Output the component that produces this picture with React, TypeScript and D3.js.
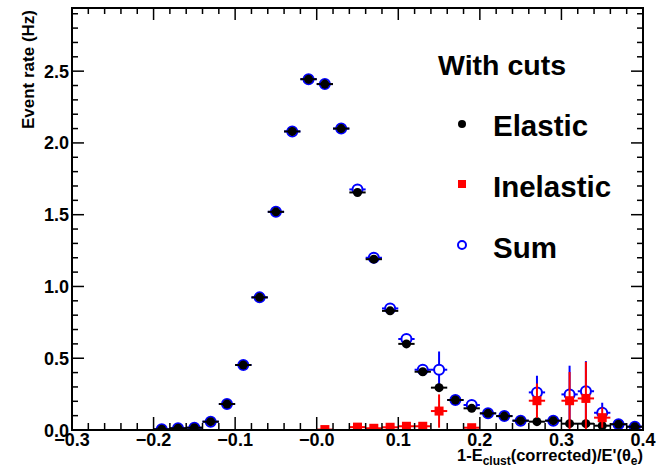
import React from 'react';
import * as d3 from 'd3';

const xCenters = [-0.19, -0.17, -0.15, -0.13, -0.11, -0.09, -0.07, -0.05, -0.03, -0.01, 0.01, 0.03, 0.05, 0.07, 0.09, 0.11, 0.13, 0.15, 0.17, 0.19, 0.21, 0.23, 0.25, 0.27, 0.29, 0.31, 0.33, 0.35, 0.37, 0.39];
const elastic = [0.005, 0.012, 0.016, 0.058, 0.181, 0.453, 0.924, 1.52, 2.08, 2.444, 2.41, 2.10, 1.655, 1.19, 0.83, 0.60, 0.406, 0.295, 0.209, 0.151, 0.116, 0.097, 0.065, 0.058, 0.065, 0.044, 0.044, 0.03, 0.04, 0.023];
const elasticErr = [0.002, 0.003, 0.004, 0.006, 0.01, 0.015, 0.02, 0.025, 0.03, 0.03, 0.03, 0.03, 0.025, 0.02, 0.02, 0.015, 0.012, 0.012, 0.01, 0.01, 0.008, 0.008, 0.008, 0.008, 0.008, 0.008, 0.008, 0.008, 0.008, 0.006];
const sum = [0.005, 0.012, 0.016, 0.058, 0.181, 0.453, 0.924, 1.52, 2.08, 2.444, 2.41, 2.10, 1.676, 1.20, 0.847, 0.634, 0.42, 0.42, 0.209, 0.174, 0.116, 0.097, 0.065, 0.262, 0.065, 0.248, 0.27, 0.12, 0.04, 0.023];
const sumErr = [0.002, 0.003, 0.004, 0.006, 0.01, 0.015, 0.02, 0.025, 0.03, 0.03, 0.03, 0.03, 0.03, 0.025, 0.025, 0.025, 0.03, 0.127, 0.01, 0.015, 0.008, 0.008, 0.008, 0.116, 0.008, 0.2, 0.21, 0.07, 0.008, 0.006];
const inelX = [0.01, 0.05, 0.07, 0.09, 0.11, 0.13, 0.15, 0.19, 0.27, 0.31, 0.33, 0.35];
const inelastic = [0.003, 0.02, 0.012, 0.019, 0.026, 0.026, 0.132, 0.016, 0.204, 0.204, 0.22, 0.086];
const inelErr = [0.008, 0.012, 0.008, 0.01, 0.012, 0.012, 0.116, 0.01, 0.12, 0.2, 0.255, 0.07];

const xTicks = [-0.3, -0.2, -0.1, 0, 0.1, 0.2, 0.3, 0.4];
const xTickLabels = ['\u22120.3', '\u22120.2', '\u22120.1', '\u22120.0', '0.1', '0.2', '0.3', '0.4'];
const yTicks = [0, 0.5, 1, 1.5, 2, 2.5];
const yTickLabels = ['0.0', '0.5', '1.0', '1.5', '2.0', '2.5'];
const legendTitle = 'With cuts';
const legendLabels = ['Elastic', 'Inelastic', 'Sum'];

const W = 656, H = 471;
const L = 72, R = 643, T = 8, B = 430;
const FONT = '"Liberation Sans", Arial, Helvetica, sans-serif';

export default function App() {
  const x = d3.scaleLinear().domain([-0.3, 0.4]).range([L, R]);
  const y = d3.scaleLinear().domain([0, 2.94]).range([B, T]);
  const xMinor = d3.range(-0.3, 0.4001, 0.02);
  const yMinor = d3.range(0, 2.9401, 0.1);
  const halfW = 0.01;

  const errBars = (xs: number[], vs: number[], es: number[], color: string, key: string) =>
    xs.map((xv, i) => (
      <g key={key + i} stroke={color} strokeWidth={2}>
        <line x1={x(xv - halfW)} x2={x(xv + halfW)} y1={y(vs[i])} y2={y(vs[i])} />
        <line x1={x(xv)} x2={x(xv)} y1={y(Math.max(0, vs[i] - es[i]))} y2={y(vs[i] + es[i])} />
      </g>
    ));

  return (
    <svg width={W} height={H} style={{ position: 'absolute', left: 0, top: 0, background: '#fff' }} fontFamily={FONT}>
      <defs>
        <clipPath id="plotclip">
          <rect x={L} y={T} width={R - L} height={B - T} />
        </clipPath>
      </defs>
      <rect x={0} y={0} width={W} height={H} fill="#fff" />
      <g clipPath="url(#plotclip)">
        {errBars(xCenters, sum, sumErr, '#0000ff', 's')}
        {xCenters.map((xv, i) => (
          <circle key={'sc' + i} cx={x(xv)} cy={y(sum[i])} r={5} fill="#fff" stroke="#0000ff" strokeWidth={2} />
        ))}
        {errBars(xCenters, elastic, elasticErr, '#000', 'e')}
        {xCenters.map((xv, i) => (
          <circle key={'ec' + i} cx={x(xv)} cy={y(elastic[i])} r={4.5} fill="#000" />
        ))}
        {errBars(inelX, inelastic, inelErr, '#ff0000', 'i')}
        {inelX.map((xv, i) => (
          <rect key={'ir' + i} x={x(xv) - 4.5} y={y(inelastic[i]) - 4.5} width={9} height={9} fill="#ff0000" />
        ))}
      </g>

      {/* frame */}
      <rect x={L} y={T} width={R - L} height={B - T} fill="none" stroke="#000" strokeWidth={2} />

      {/* x ticks bottom and top */}
      {xMinor.map((v, i) => {
        const major = Math.abs(v * 10 - Math.round(v * 10)) < 1e-6;
        const len = major ? 13 : 7;
        return (
          <g key={'xt' + i} stroke="#000" strokeWidth={1.5}>
            <line x1={x(v)} x2={x(v)} y1={B} y2={B - len} />
            <line x1={x(v)} x2={x(v)} y1={T} y2={T + (major ? 12 : 6)} />
          </g>
        );
      })}
      {/* y ticks left and right */}
      {yMinor.map((v, i) => {
        const major = Math.abs(v * 2 - Math.round(v * 2)) < 1e-6;
        const len = major ? 12 : 6;
        return (
          <g key={'yt' + i} stroke="#000" strokeWidth={1.5}>
            <line x1={L} x2={L + len} y1={y(v)} y2={y(v)} />
            <line x1={R} x2={R - len} y1={y(v)} y2={y(v)} />
          </g>
        );
      })}

      {/* tick labels */}
      {xTicks.map((v, i) => (
        <text key={'xl' + i} x={x(v)} y={446} textAnchor="middle" fontSize={18} fontWeight="bold" fill="#000">
          {xTickLabels[i]}
        </text>
      ))}
      {yTicks.map((v, i) => (
        <text key={'yl' + i} x={69} y={y(v) + 6.5} textAnchor="end" fontSize={18} fontWeight="bold" fill="#000">
          {yTickLabels[i]}
        </text>
      ))}

      {/* axis titles */}
      <text transform={`translate(34,${T + 2}) rotate(-90)`} textAnchor="end" fontSize={17} fontWeight="bold" fill="#000">
        Event rate (Hz)
      </text>
      <text x={R} y={461} textAnchor="end" fontSize={16.5} fontWeight="bold" fill="#000">
        1-E<tspan fontSize={12} dy={4}>clust</tspan>
        <tspan dy={-4}>(corrected)/E'(θ</tspan>
        <tspan fontSize={12} dy={4}>e</tspan>
        <tspan dy={-4}>)</tspan>
      </text>

      {/* legend */}
      <text x={438} y={75} fontSize={28.5} fontWeight="bold" fill="#000">{legendTitle}</text>
      <circle cx={462} cy={124} r={4} fill="#000" />
      <text x={493} y={136} fontSize={29.5} fontWeight="bold" fill="#000">{legendLabels[0]}</text>
      <rect x={458} y={180} width={8} height={8} fill="#ff0000" />
      <text x={493} y={197} fontSize={29.5} fontWeight="bold" fill="#000">{legendLabels[1]}</text>
      <circle cx={462} cy={245} r={4} fill="#fff" stroke="#0000ff" strokeWidth={2} />
      <text x={493} y={258} fontSize={29.5} fontWeight="bold" fill="#000">{legendLabels[2]}</text>
    </svg>
  );
}
